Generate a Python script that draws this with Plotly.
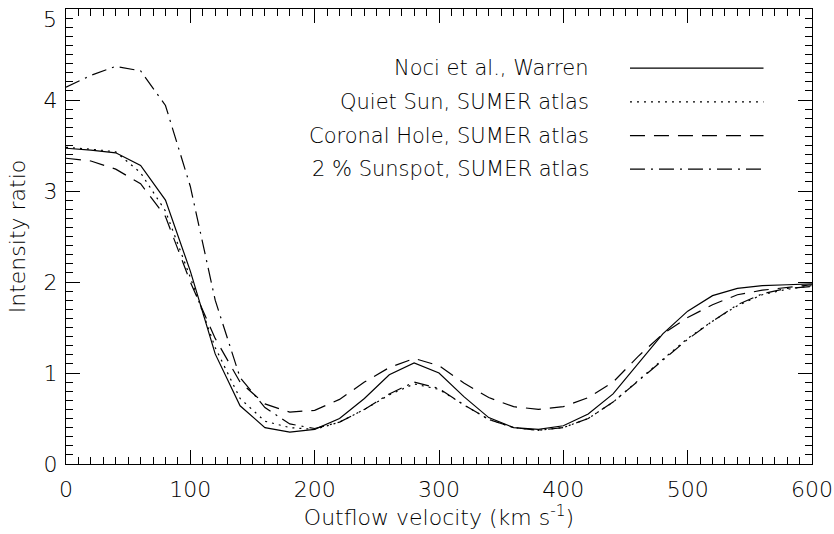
import plotly.graph_objects as go

# Outflow velocity grid (km/s)
velocity = list(range(0, 601, 20))

# Intensity ratio for each model
noci_warren = [3.47, 3.45, 3.42, 3.28, 2.90, 2.12, 1.21, 0.64, 0.40, 0.35, 0.38,
               0.50, 0.72, 0.98, 1.11, 1.00, 0.74, 0.51, 0.40, 0.38, 0.42,
               0.55, 0.77, 1.10, 1.43, 1.68, 1.85, 1.93, 1.96, 1.97, 1.98]
quiet_sun = [3.48, 3.46, 3.43, 3.20, 2.78, 2.05, 1.28, 0.72, 0.47, 0.40, 0.38,
             0.46, 0.60, 0.76, 0.88, 0.82, 0.65, 0.49, 0.40, 0.37, 0.40,
             0.50, 0.68, 0.92, 1.15, 1.38, 1.57, 1.74, 1.86, 1.92, 1.96]
coronal_hole = [3.36, 3.33, 3.24, 3.08, 2.72, 2.00, 1.38, 0.90, 0.66, 0.57, 0.59,
                0.71, 0.90, 1.06, 1.16, 1.08, 0.89, 0.73, 0.63, 0.60, 0.63,
                0.73, 0.90, 1.18, 1.43, 1.61, 1.75, 1.86, 1.91, 1.94, 1.97]
sunspot = [4.14, 4.27, 4.37, 4.32, 3.94, 3.05, 1.80, 0.95, 0.62, 0.44, 0.39,
           0.46, 0.60, 0.77, 0.90, 0.83, 0.65, 0.49, 0.40, 0.37, 0.40,
           0.50, 0.68, 0.91, 1.14, 1.37, 1.57, 1.75, 1.87, 1.93, 1.95]

series_names = ["Noci et al., Warren", "Quiet Sun, SUMER atlas",
                "Coronal Hole, SUMER atlas", "2 % Sunspot, SUMER atlas"]
series_values = [noci_warren, quiet_sun, coronal_hole, sunspot]
dash_styles = ["solid", "2px,5px", "15px,9px", "15px,6px,2px,6px"]

# y tick labels: the top one is nudged down inside the frame
y_tick_values = [0, 1, 2, 3, 4]
y_tick_labels = ["0", "1", "2", "3", "4"]
y_top_value, y_top_label = 5, "5"

FONT = "DejaVu Sans"
WEIGHT = 200
TICK_SIZE = 22
fig = go.Figure()

for name, vals, dash in zip(series_names, series_values, dash_styles):
    fig.add_trace(go.Scatter(x=velocity, y=vals, mode="lines", name=name,
                             line=dict(color="black", width=1.2, dash=dash),
                             showlegend=False))

# Hand-drawn key: text on the left, line sample on the right
key_rows = [0.870, 0.796, 0.7215, 0.648]
for name, dash, yk in zip(series_names, dash_styles, key_rows):
    fig.add_annotation(x=0.704, y=yk, xref="paper", yref="paper", text=name,
                       showarrow=False, xanchor="right", yanchor="middle",
                       font=dict(family=FONT, size=21, color="black", weight=WEIGHT))
    fig.add_shape(type="line", xref="paper", yref="paper",
                  x0=0.756, x1=0.935, y0=yk, y1=yk,
                  line=dict(color="black", width=1.2, dash=dash))

fig.add_annotation(x=0, y=y_top_value, xref="paper", yref="y", text=y_top_label,
                   showarrow=False, xanchor="right", yanchor="top",
                   xshift=-7, yshift=4,
                   font=dict(family=FONT, size=TICK_SIZE, color="black", weight=WEIGHT))

axis_common = dict(
    showgrid=False, zeroline=False, showline=True, linecolor="black",
    linewidth=1.3, mirror="allticks", ticks="inside", ticklen=14,
    tickwidth=1.2, tickcolor="black",
    tickfont=dict(family=FONT, size=TICK_SIZE, color="black", weight=WEIGHT),
)

fig.update_xaxes(range=[0, 600], tick0=0, dtick=100, ticklabelstandoff=5,
                 minor=dict(dtick=10, ticks="inside", ticklen=7, tickwidth=1.2,
                            tickcolor="black", showgrid=False),
                 title=dict(text="Outflow velocity (km s<sup>-1</sup>)", standoff=8,
                            font=dict(family=FONT, size=22, color="black", weight=WEIGHT)),
                 **axis_common)
fig.update_yaxes(range=[0, 5], tickmode="array", tickvals=y_tick_values,
                 ticktext=y_tick_labels, ticklabelstandoff=3,
                 minor=dict(tick0=0, dtick=0.1, ticks="inside", ticklen=7, tickwidth=1.2,
                            tickcolor="black", showgrid=False),
                 title=dict(text="Intensity ratio", standoff=11,
                            font=dict(family=FONT, size=22, color="black", weight=WEIGHT)),
                 **axis_common)

fig.update_layout(
    width=834, height=534,
    margin=dict(l=66, r=22, t=9, b=70, autoexpand=False),
    plot_bgcolor="white", paper_bgcolor="white",
)

fig.write_html("out.html")
